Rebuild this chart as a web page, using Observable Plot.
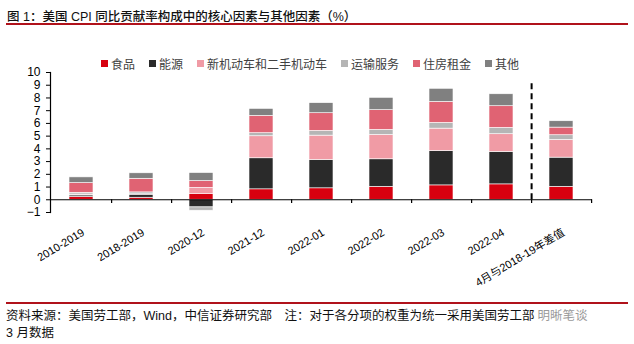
<!DOCTYPE html>
<html>
<head>
<meta charset="utf-8">
<script src="https://cdn.jsdelivr.net/npm/d3@7"></script>
<script src="https://cdn.jsdelivr.net/npm/@observablehq/plot@0.6"></script>
<style>
  body { margin: 0; background: #fff; width: 634px; height: 344px; position: relative; overflow: hidden;
         font-family: "Liberation Sans", "Noto Sans CJK SC", sans-serif; }
  #title { position: absolute; left: 7px; top: 6px; font-size: 12.5px; font-weight: 500; color: #111;
           font-family: "Liberation Sans", "Noto Sans CJK SC", sans-serif; white-space: nowrap; }
  .rule { position: absolute; left: 6px; width: 622px; height: 1.5px; background: #b0121b; }
  #legend { position: absolute; top: 55px; left: 0; width: 634px; display: flex; justify-content: center; z-index: 2; }
  .lg-swatches-wrap { min-height: 16px !important; justify-content: center; }
  .lg-swatches { font-family: "Liberation Sans", "Noto Sans CJK SC", sans-serif !important; font-size: 12px !important; color: #404040 !important; margin: 0 !important; background: transparent !important; }
  .lg-swatch { margin-right: 14px !important; }
  .lg-swatch > svg { margin-right: 3px !important; }
  #chart { position: absolute; top: 66px; left: 0; z-index: 1; }
  #foot { position: absolute; left: 6px; top: 308px; font-size: 12.5px; line-height: 17px; color: #111;
          font-family: "Liberation Sans", "Noto Sans CJK SC", sans-serif; white-space: nowrap; }
  .wm { color: #9a9a9a; margin-left: 3px; }
</style>
</head>
<body>
<div id="title">图 1：美国 CPI 同比贡献率构成中的核心因素与其他因素（%）</div>
<div class="rule" style="top:23px"></div>
<div id="legend"></div>
<div id="chart"></div>
<div class="rule" style="top:302px"></div>
<div id="foot">资料来源：美国劳工部，Wind，中信证券研究部　注：对于各分项的权重为统一采用美国劳工部<span class="wm">明晰笔谈</span><br>3 月数据</div>
<script>
const categories = ["2010-2019","2018-2019","2020-12","2021-12","2022-01","2022-02","2022-03","2022-04","4月与2018-19年差值"];
const seriesNames = ["食品","能源","新机动车和二手机动车","运输服务","住房租金","其他"];
const food      = [0.22, 0.16,  0.47, 0.82, 0.90, 1.02, 1.13, 1.21, 1.02];
const energy    = [0.12, 0.24, -0.60, 2.44, 2.23, 2.16, 2.70, 2.55, 2.29];
const cars      = [0.07, 0.03,  0.47, 1.73, 1.91, 1.91, 1.76, 1.39, 1.39];
const transport = [0.14, 0.15, -0.26, 0.24, 0.37, 0.40, 0.45, 0.50, 0.37];
const rent      = [0.76, 1.07,  0.53, 1.36, 1.39, 1.55, 1.65, 1.70, 0.60];
const others    = [0.45, 0.43,  0.63, 0.55, 0.79, 0.97, 1.03, 0.94, 0.50];
const yTicks = [-1,0,1,2,3,4,5,6,7,8,9,10];
const colors = ["#d7000f","#2a2a2a","#f09ba5","#b5b5b5","#e06373","#808080"];

const seriesValues = [food, energy, cars, transport, rent, others];
const data = [];
categories.forEach((c, i) => {
  seriesNames.forEach((s, j) => data.push({cat: c, series: s, value: seriesValues[j][i]}));
});

const W = 634, H = 224, ML = 50, MR = 42, MT = 6, MB = 78;
const step = (W - ML - MR) / categories.length;

const chart = Plot.plot({
  width: W, height: H,
  marginLeft: ML, marginRight: MR, marginTop: MT, marginBottom: MB,
  style: {fontFamily: '"Liberation Sans", "Noto Sans CJK SC", sans-serif', fontSize: "12px", color: "#000", background: "transparent", overflow: "visible"},
  x: {domain: categories, paddingInner: 0.6, paddingOuter: 0.3, label: null},
  y: {domain: [-1, 10], label: null},
  color: {domain: seriesNames, range: colors},
  marks: [
    Plot.barY(data, {x: "cat", y: "value", fill: "series", stroke: "#ffffff", strokeWidth: 0.6}),
    Plot.ruleY([0], {stroke: "#000", strokeWidth: 1.2}),
    Plot.frame({anchor: "left", stroke: "#000", strokeWidth: 1.2}),
    Plot.ruleX(categories, {x: d => d, y1: 0, y2: -0.3, dx: step / 2, stroke: "#000", strokeWidth: 1.2}),
    Plot.ruleX([categories[7]], {x: d => d, y1: 0, y2: 9.3, dx: step / 2, stroke: "#000", strokeWidth: 2, strokeDasharray: "6,4"}),
    Plot.axisY({ticks: yTicks, tickFormat: d3.format("d"), tickSize: 4, tickPadding: 6, stroke: "#000", fontSize: 12, label: null}),
    Plot.axisX({tickSize: 0, tickPadding: 19, tickRotate: -31, fontSize: 11, label: null, dx: 2})
  ]
});
document.getElementById("chart").appendChild(chart);

const legend = Plot.legend({
  color: {domain: seriesNames, range: colors},
  swatchSize: 7,
  className: "lg"
});
document.getElementById("legend").appendChild(legend);
</script>
</body>
</html>
